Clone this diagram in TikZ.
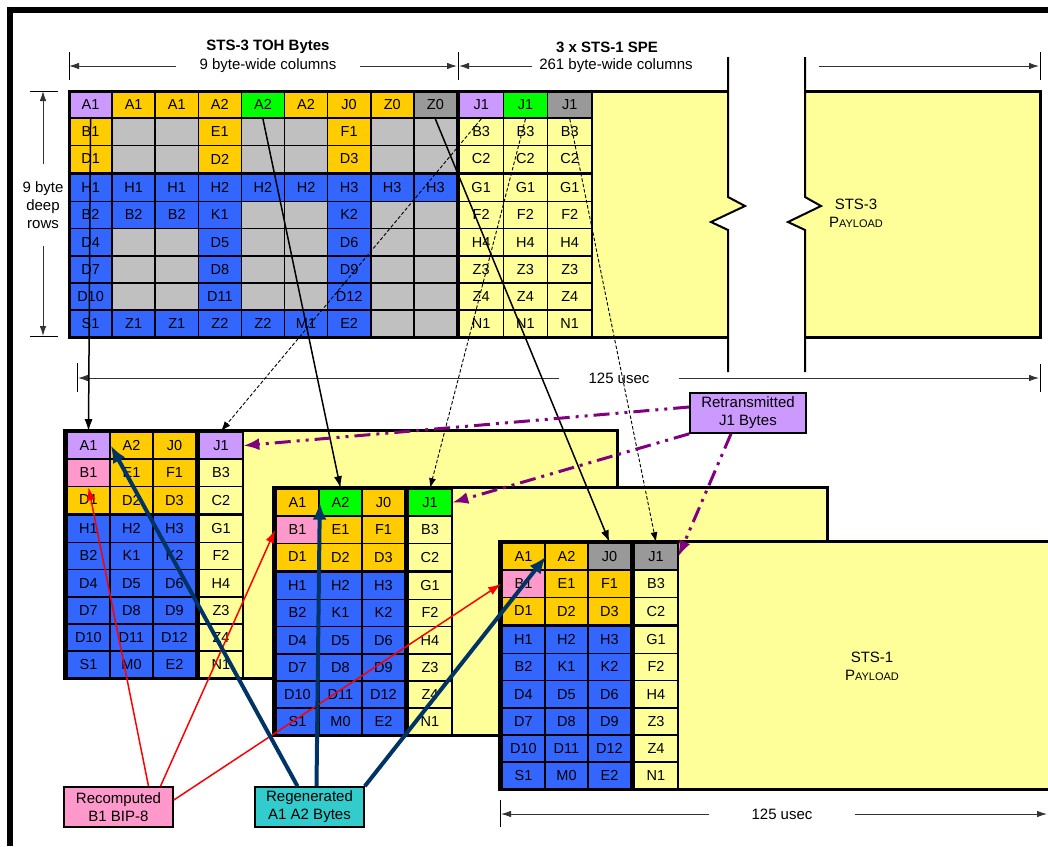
\documentclass[tikz,border=0pt]{standalone}
\usepackage{fontspec}
\setmainfont{Liberation Sans}
\usepackage{xcolor}
\usepackage{tikz}
\usetikzlibrary{arrows.meta}

\definecolor{cP}{HTML}{CC99FF}
\definecolor{cO}{HTML}{FFCC00}
\definecolor{cG}{HTML}{00FF00}
\definecolor{cD}{HTML}{999999}
\definecolor{cL}{HTML}{C0C0C0}
\definecolor{cB}{HTML}{3366FF}
\definecolor{cY}{HTML}{FFFF99}
\definecolor{cK}{HTML}{FF99CC}
\definecolor{cT}{HTML}{33CCCC}
\definecolor{navyblue}{HTML}{003366}
\definecolor{lila}{HTML}{800080}

\begin{document}
\begin{tikzpicture}[x=1pt, y=-1pt, font=\fontsize{15}{18}\selectfont,
    cell/.style={draw, line width=1.6pt, inner sep=0pt, minimum width=43.1pt, minimum height=27.2pt, font=\fontsize{14.5}{16}\selectfont},
    bcell/.style={cell, minimum width=43pt},
    boxline/.style={line width=3pt, line join=miter},
    breakline/.style={line width=2pt},
    tickline/.style={line width=1pt},
    dimline/.style={line width=0.9pt, black!80, -{Latex[length=10pt,width=6.5pt]}},
    dimtext/.style={inner xsep=#1, inner ysep=1pt},
    dimtext/.default=22pt,
    labelbox/.style={draw, line width=1.6pt, minimum width=#1, minimum height=40pt, align=center, inner sep=1pt},
    tohlink/.style={line width=1.5pt, -{Latex[length=12pt,width=8pt]}},
    j1link/.style={line width=0.9pt, dash pattern=on 3.5pt off 2pt, -{Latex[length=10pt,width=7pt]}},
    biplink/.style={red, line width=1.5pt, -{Latex[length=13pt,width=9pt]}},
    synclink/.style={navyblue, line width=4pt, -{Latex[length=17pt,width=14pt]}},
    retlink/.style={lila, line width=3pt, dash pattern=on 16pt off 6pt on 3pt off 6pt on 3pt off 6pt, -{Latex[length=16pt,width=12pt]}}
]

    % --- 1. PARAMETER ---
    \def\xtoh{69}    % linke Kante TOH
    \def\wtoh{43.1}
    \def\xspe{459}   % erste J1-Spalte
    \def\wspe{44.3}
    \def\ytop{91}
    \def\hrow{27.2}

    \useasboundingbox (0,0) rectangle (1048,846);
    \clip (0,0) rectangle (1048,846);

    % Rahmen der Seite
    \draw[line width=6pt, line join=miter] (10,846) -- (10,10) -- (1048,10);

    % --- 2. MAKROS ---
    \newcommand{\payloadtxt}{P{\fontsize{11}{18}\selectfont AYLOAD}}

    \newcommand{\tohrow}[2]{
        \foreach \clr/\txt [count=\c] in {#2}{
            \node[cell, fill=c\clr] (t#1c\c) at ({\xtoh+(\c-0.5)*\wtoh}, {\ytop+(#1-0.5)*\hrow+1.5*(#1>3)}) {\txt};
        }
    }

    \newcommand{\sperow}[2]{
        \foreach \clr/\txt [count=\c] in {#2}{
            \node[cell, minimum width=\wspe pt, fill=c\clr] (s#1c\c) at ({\xspe+(\c-0.5)*\wspe}, {\ytop+(#1-0.5)*\hrow+1.5*(#1>3)}) {\txt};
        }
    }

    % Name, x0, y0, Breite, Farben A1 A2 J0 J1
    \newcommand{\stsframe}[8]{
        \draw[boxline, fill=cY] (#2,#3) rectangle ++(#4,248);
        \fill (#2,#3) rectangle ++(180,248);
        \foreach \r/\zeile in {1/{#5/A1,#6/A2,#7/J0,#8/J1}, 2/{K/B1,O/E1,O/F1,Y/B3}, 3/{O/D1,O/D2,O/D3,Y/C2},
                4/{B/H1,B/H2,B/H3,Y/G1}, 5/{B/B2,B/K1,B/K2,Y/F2}, 6/{B/D4,B/D5,B/D6,Y/H4},
                7/{B/D7,B/D8,B/D9,Y/Z3}, 8/{B/D10,B/D11,B/D12,Y/Z4}, 9/{B/S1,B/M0,B/E2,Y/N1}}{
            \foreach \clr/\txt [count=\c] in \zeile {
                \node[bcell, fill=c\clr] (#1-\r-\c) at ({#2+3+(\c-0.5)*43+3.5*(\c>3)}, {#3+2+(\r-0.5)*27.2+1.5*(\r>3)}) {\txt};
            }
        }
        \draw[boxline] (#2,#3) rectangle ++(#4,248);
    }

    % --- 3. STS-3 RAHMEN (OBEN) ---
    \fill[cY] (457,91) -- (728,91) -- (728,197) -- (745,206) -- (711,222) -- (728,230) -- (728,337) -- (457,337) -- cycle;
    \fill[cY] (805,91) -- (1040,91) -- (1040,337) -- (805,337) -- (805,230) -- (788,222) -- (821,206) -- (805,197) -- cycle;
    \fill (69,91) rectangle (592,337.3);

    \tohrow{1}{P/A1,O/A1,O/A1,O/A2,G/A2,O/A2,O/J0,O/Z0,D/Z0}
    \tohrow{2}{O/B1,L/{},L/{},O/E1,L/{},L/{},O/F1,L/{},L/{}}
    \tohrow{3}{O/D1,L/{},L/{},O/D2,L/{},L/{},O/D3,L/{},L/{}}
    \tohrow{4}{B/H1,B/H1,B/H1,B/H2,B/H2,B/H2,B/H3,B/H3,B/H3}
    \tohrow{5}{B/B2,B/B2,B/B2,B/K1,L/{},L/{},B/K2,L/{},L/{}}
    \tohrow{6}{B/D4,L/{},L/{},B/D5,L/{},L/{},B/D6,L/{},L/{}}
    \tohrow{7}{B/D7,L/{},L/{},B/D8,L/{},L/{},B/D9,L/{},L/{}}
    \tohrow{8}{B/D10,L/{},L/{},B/D11,L/{},L/{},B/D12,L/{},L/{}}
    \tohrow{9}{B/S1,B/Z1,B/Z1,B/Z2,B/Z2,B/M1,B/E2,L/{},L/{}}

    \sperow{1}{P/J1,G/J1,D/J1}
    \foreach \r/\t in {2/B3,3/C2,4/G1,5/F2,6/H4,7/Z3,8/Z4,9/N1}{
        \sperow{\r}{Y/\t,Y/\t,Y/\t}
    }

    \draw[boxline] (728,91) -- (69,91) -- (69,337) -- (728,337);
    \draw[boxline] (805,91) -- (1040,91) -- (1040,337) -- (805,337);

    % Bruchkanten, oben und unten verlaengert
    \draw[breakline] (728,57) -- (728,197) -- (745,206) -- (711,222) -- (728,230) -- (728,372);
    \draw[breakline] (805,57) -- (805,197) -- (821,206) -- (788,222) -- (805,230) -- (805,372);

    \node[align=center] (pay3) at (856,213) {STS-3\\\payloadtxt};

    % --- 4. BEMASSUNG ---
    \draw[tickline] (69,52) -- (69,80);
    \draw[tickline] (458,52) -- (458,80);
    \draw[tickline] (1040,52) -- (1040,80);
    \coordinate (tohL) at (69,66);
    \coordinate (tohR) at (457,66);
    \coordinate (speL) at (459,66);
    \coordinate (speM) at (819,66);
    \coordinate (speR) at (1039,66);

    \node[font=\fontsize{15}{18}\selectfont\bfseries] (tohtitle) at (268,47) {STS-3 TOH Bytes};
    \node[dimtext=23pt] (tohcols) at (268,66) {9 byte-wide columns};
    \draw[dimline] (tohcols.west) -- (tohL);
    \draw[dimline] (tohcols.east) -- (tohR);

    \node[font=\fontsize{15}{18}\selectfont\bfseries] (spetitle) at (607,47) {3 x STS-1 SPE};
    \node[dimtext=7pt] (specols) at (616,66) {261 byte-wide columns};
    \draw[dimline] (specols.west) -- (speL);
    \draw[dimline] (speM) -- (speR);

    % Zeilen links
    \draw[tickline] (30,91) -- (58,91);
    \draw[tickline] (30,336) -- (58,336);
    \coordinate (rowT) at (43,91);
    \coordinate (rowB) at (43,336);
    \node[align=center, inner xsep=1pt, inner ysep=17pt] (rows) at (43,205) {9 byte\\deep\\rows};
    \draw[dimline] (rows.north) -- (rowT);
    \draw[dimline] (rows.south) -- (rowB);

    % 125 usec oben
    \draw[tickline] (77,363) -- (77,392);
    \draw[tickline] (1040,364) -- (1040,392);
    \coordinate (usecL) at (78,378);
    \coordinate (usecR) at (1039,378);
    \node[dimtext=29pt] (usec3) at (619,378) {125 usec};
    \draw[dimline] (usec3.west) -- (usecL);
    \draw[dimline] (usec3.east) -- (usecR);

    % --- 5. STS-1 RAHMEN ---
    \stsframe{f1}{64}{430}{553}{P}{O}{O}{P}
    \stsframe{f2}{273}{487}{554}{O}{G}{O}{G}
    \stsframe{f3}{499}{541}{600}{O}{O}{D}{D}

    \node[align=center] (pay1) at (872,666) {STS-1\\\payloadtxt};

    % 125 usec unten
    \draw[tickline] (500,800) -- (500,827);
    \coordinate (usec1L) at (501,814);
    \coordinate (usec1R) at (1047,814);
    \node[dimtext=42pt] (usec1) at (782,814) {125 usec};
    \draw[dimline] (usec1.west) -- (usec1L);
    \draw[dimline] (usec1.east) -- (usec1R);

    % --- 6. BESCHRIFTUNGEN ---
    \node[labelbox=109pt, fill=cK] (rec) at (118.5,807) {Recomputed\\B1 BIP-8};
    \node[labelbox=109pt, fill=cT] (reg) at (309.5,807) {Regenerated\\A1 A2 Bytes};
    \node[labelbox=116pt, fill=cP] (ret) at (748,413) {Retransmitted\\J1 Bytes};

    % --- 7. PFEILE ---
    \draw[tohlink] (t1c1.south) -- (f1-1-1.north);
    \draw[tohlink] (t1c5.south) -- (f2-1-2.north);
    \draw[tohlink] (t1c9.south) -- (f3-1-3.north);

    \draw[j1link] (s1c1.south) -- (f1-1-4.north);
    \draw[j1link] (s1c2.south) -- (f2-1-4.north);
    \draw[j1link] (s1c3.south) -- (f3-1-4.north);

    \draw[biplink] ([xshift=30pt]rec.north) -- (f1-2-1.south);
    \draw[biplink] ([xshift=42pt]rec.north) -- (f2-2-1.west);
    \draw[biplink] ([yshift=7pt]rec.east) -- (f3-2-1.west);

    \draw[synclink] ([xshift=-12pt]reg.north) -- (f1-1-1.east);
    \draw[synclink] ([xshift=7pt]reg.north) -- (f2-1-1.east);
    \draw[synclink] (reg.north east) -- (f3-1-1.east);

    \draw[retlink] ([yshift=6pt]ret.west) -- (f1-1-4.east);
    \draw[retlink] (ret.south west) -- (f2-1-4.east);
    \draw[retlink] ([xshift=-17pt]ret.south) -- (f3-1-4.east);

\end{tikzpicture}
\end{document}
